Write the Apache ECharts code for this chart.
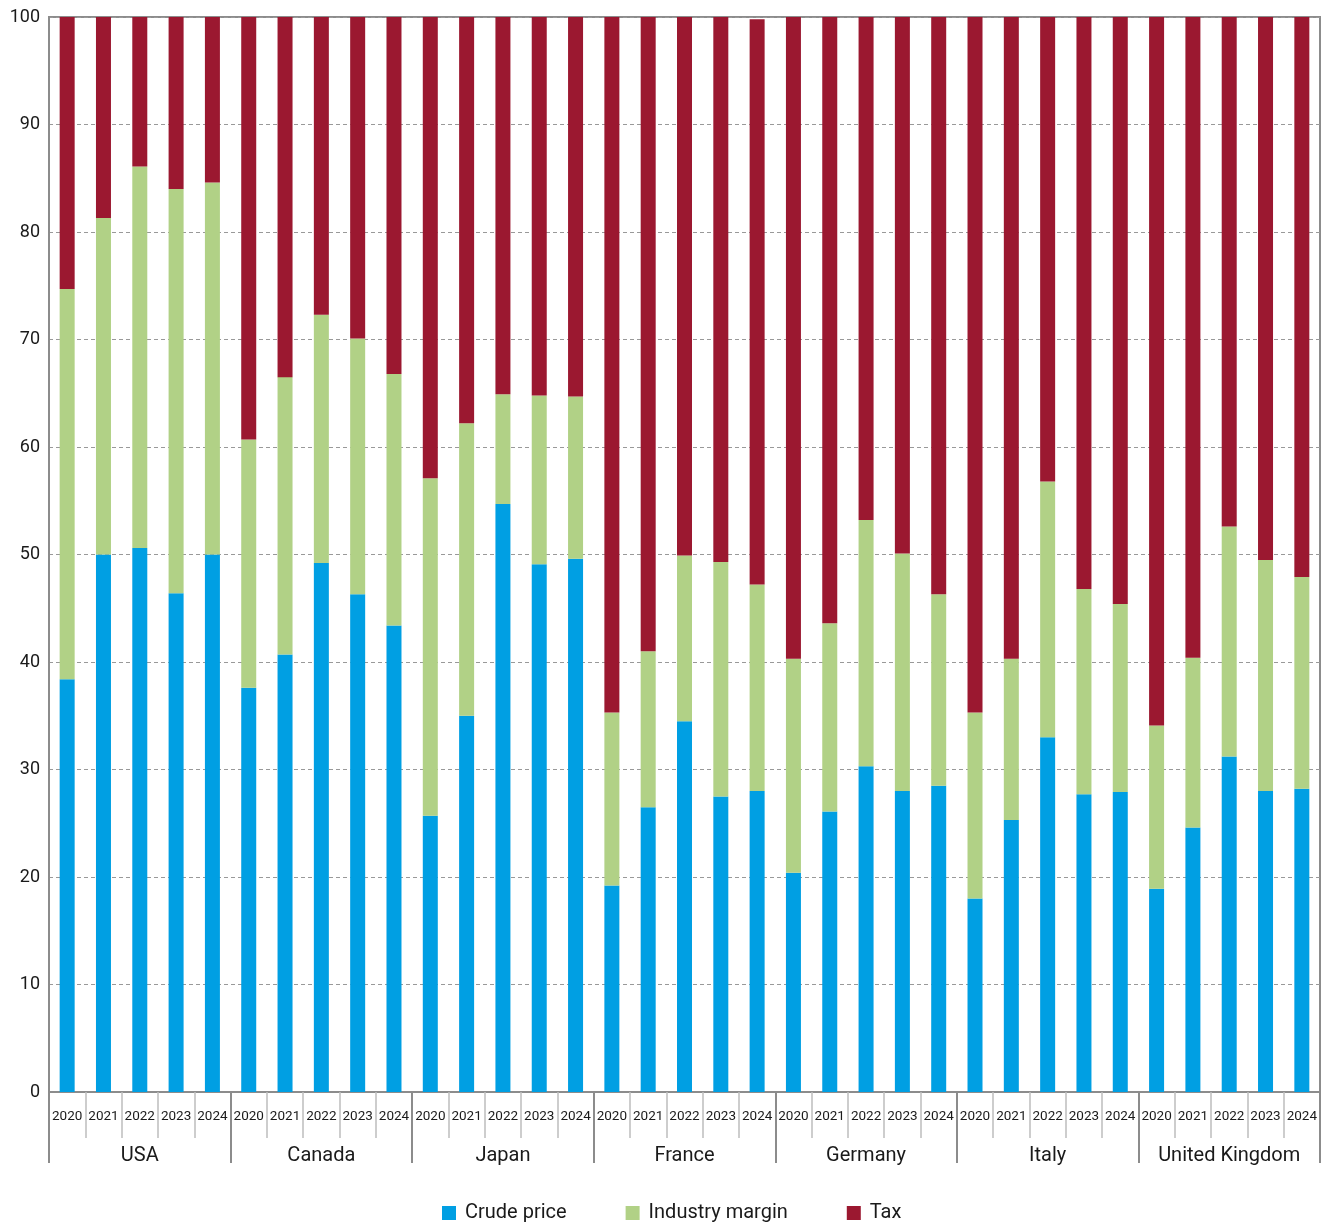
<!DOCTYPE html>
<html>
<head>
<meta charset="utf-8">
<script src="https://cdn.jsdelivr.net/npm/echarts@6/dist/echarts.min.js"></script>
<style>
  html, body { margin: 0; padding: 0; background: #fff; }
  #chart { width: 1324px; height: 1226px; }
</style>
</head>
<body>
<div id="chart"></div>
<script>
// 数据
const countries = ['USA', 'Canada', 'Japan', 'France', 'Germany', 'Italy', 'United Kingdom'];
const years = ['2020', '2021', '2022', '2023', '2024'];

const crudePrice = [
    38.4, 50.0, 50.6, 46.4, 50.0,
    37.6, 40.7, 49.2, 46.3, 43.4,
    25.7, 35.0, 54.7, 49.1, 49.6,
    19.2, 26.5, 34.5, 27.5, 28.0,
    20.4, 26.1, 30.3, 28.0, 28.5,
    18.0, 25.3, 33.0, 27.7, 27.9,
    18.9, 24.6, 31.2, 28.0, 28.2
];
const industryMargin = [
    36.3, 31.3, 35.5, 37.6, 34.6,
    23.1, 25.8, 23.1, 23.8, 23.4,
    31.4, 27.2, 10.2, 15.7, 15.1,
    16.1, 14.5, 15.4, 21.8, 19.2,
    19.9, 17.5, 22.9, 22.1, 17.8,
    17.3, 15.0, 23.8, 19.1, 17.5,
    15.2, 15.8, 21.4, 21.5, 19.7
];
const tax = [
    25.3, 18.7, 13.9, 16.0, 15.4,
    39.3, 33.5, 27.7, 29.9, 33.2,
    42.9, 37.8, 35.1, 35.2, 35.3,
    64.7, 59.0, 50.1, 50.7, 52.6,
    59.7, 56.4, 46.8, 49.9, 53.7,
    64.7, 59.7, 43.2, 53.2, 54.6,
    65.9, 59.6, 47.4, 50.5, 52.1
];

// 每个国家下的年份
const yearLabels = [];
countries.forEach(() => years.forEach(y => yearLabels.push(y)));

const fontFamily = 'Roboto, "DejaVu Sans", sans-serif';

const chart = echarts.init(document.getElementById('chart'));
chart.setOption({
    animation: false,
    textStyle: { fontFamily: fontFamily },
    grid: {
        left: 49,
        right: 4,
        top: 17,
        bottom: 134,
        show: true,
        borderColor: '#8c8c8c',
        borderWidth: 2
    },
    legend: {
        top: 1198,
        left: 437,
        itemWidth: 14,
        itemHeight: 14,
        itemGap: 59,
        icon: 'rect',
        textStyle: { fontSize: 20, color: '#1a1a1a', fontFamily: fontFamily, padding: [0, 0, 0, 4] },
        data: ['Crude price', 'Industry margin', 'Tax']
    },
    xAxis: [
        {
            type: 'category',
            data: yearLabels,
            position: 'bottom',
            axisLine: { show: true, lineStyle: { color: '#8c8c8c', width: 2 } },
            axisTick: { show: true, interval: 0, length: 46, lineStyle: { color: '#bdbdbd', width: 1.5 } },
            axisLabel: { interval: 0, margin: 18, fontSize: 13.5, color: '#1a1a1a' }
        },
        {
            type: 'category',
            data: countries,
            position: 'bottom',
            axisLine: { show: false },
            axisTick: { show: true, interval: 0, length: 71, lineStyle: { color: '#8c8c8c', width: 2 } },
            axisLabel: { interval: 0, margin: 54, fontSize: 20, color: '#1a1a1a' },
            splitLine: { show: false }
        }
    ],
    yAxis: {
        type: 'value',
        min: 0,
        max: 100,
        interval: 10,
        axisLine: { show: true, lineStyle: { color: '#8c8c8c', width: 2 } },
        axisTick: { show: false },
        axisLabel: { fontSize: 18, color: '#1a1a1a', margin: 9 },
        splitLine: { show: true, lineStyle: { color: '#999', type: [4, 3], width: 1 } }
    },
    series: [
        {
            name: 'Crude price',
            type: 'bar',
            stack: 'total',
            barWidth: 15,
            itemStyle: { color: '#009fe3' },
            data: crudePrice
        },
        {
            name: 'Industry margin',
            type: 'bar',
            stack: 'total',
            barWidth: 15,
            itemStyle: { color: '#b1d186' },
            data: industryMargin
        },
        {
            name: 'Tax',
            type: 'bar',
            stack: 'total',
            barWidth: 15,
            itemStyle: { color: '#9b1830' },
            data: tax
        }
    ]
});
</script>
</body>
</html>
